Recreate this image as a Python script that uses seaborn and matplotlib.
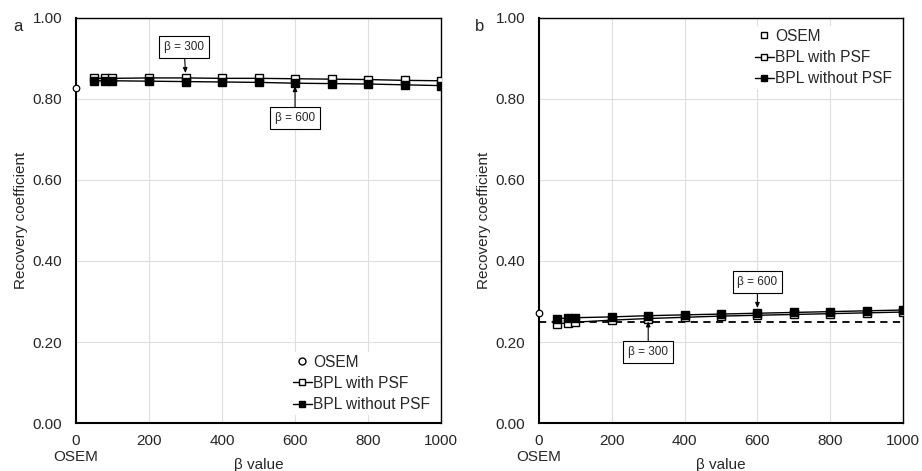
import matplotlib
matplotlib.use("Agg")
import matplotlib.pyplot as plt
from matplotlib.lines import Line2D
import seaborn as sns

beta = [50, 80, 100, 200, 300, 400, 500, 600, 700, 800, 900, 1000]

a_osem = 0.826
a_psf = [0.851, 0.851, 0.851, 0.852, 0.852, 0.851, 0.851, 0.850, 0.849, 0.848, 0.846, 0.845]
a_nopsf = [0.845, 0.845, 0.845, 0.844, 0.843, 0.842, 0.841, 0.839, 0.838, 0.837, 0.835, 0.833]

b_osem = 0.271
b_psf = [0.245, 0.247, 0.249, 0.254, 0.258, 0.261, 0.264, 0.266, 0.268, 0.270, 0.272, 0.274]
b_nopsf = [0.258, 0.259, 0.260, 0.262, 0.265, 0.267, 0.269, 0.271, 0.273, 0.275, 0.277, 0.279]
b_ref = 0.25

x_ticks = [0, 200, 400, 600, 800, 1000]
x_ticklabels = ["0\nOSEM", "200", "400", "600", "800", "1000"]
y_ticks = [0.0, 0.2, 0.4, 0.6, 0.8, 1.0]

sns.set_style("whitegrid", {"grid.color": "#dedede", "axes.edgecolor": "black"})
plt.rcParams["font.family"] = ["Liberation Sans", "DejaVu Sans"]

fig = plt.figure(figsize=(9.22, 4.71), dpi=100)
ax_a = fig.add_axes([0.0824, 0.1019, 0.3960, 0.8599])
ax_b = fig.add_axes([0.5846, 0.1019, 0.3948, 0.8599])


def draw_panel(ax, osem, psf, nopsf):
    sns.lineplot(x=beta, y=psf, ax=ax, color="black", lw=1, marker="s", ms=5.5,
                 markerfacecolor="white", markeredgecolor="black", mew=1, zorder=3)
    sns.lineplot(x=beta, y=nopsf, ax=ax, color="black", lw=1, marker="s", ms=5.5,
                 markerfacecolor="black", markeredgecolor="black", mew=1, zorder=4)
    sns.scatterplot(x=[0], y=[osem], ax=ax, marker="o", s=22, facecolor="white",
                    edgecolor="black", linewidth=0.9, zorder=5, clip_on=False)
    ax.set_xlim(0, 1000)
    ax.set_ylim(0, 1.0)
    ax.set_xticks(x_ticks)
    ax.set_xticklabels(x_ticklabels, fontsize=11)
    ax.set_yticks(y_ticks)
    ax.set_yticklabels([f"{v:.2f}" for v in y_ticks], fontsize=11)
    ax.tick_params(axis="x", length=0, pad=8)
    ax.tick_params(axis="y", length=0, pad=10)
    ax.set_xlabel("β value", fontsize=11)
    ax.xaxis.set_label_coords(0.5, -0.086)
    ax.set_ylabel("Recovery coefficient", fontsize=11, labelpad=3)
    for side in ["left", "bottom"]:
        ax.spines[side].set_linewidth(1.5)
    for side in ["top", "right"]:
        ax.spines[side].set_linewidth(1.0)


def annotate(ax, text, xy, xytext):
    ax.annotate(text, xy=xy, xytext=xytext, fontsize=8.5, ha="center", va="center",
                bbox=dict(boxstyle="square,pad=0.4", fc="white", ec="black", lw=0.8),
                arrowprops=dict(arrowstyle="-|>,head_length=0.35,head_width=0.15",
                                color="black", lw=0.8, shrinkA=0, shrinkB=0),
                zorder=6)


def legend(ax, osem_marker, **kw):
    handles = [
        Line2D([], [], ls="none", marker=osem_marker, ms=5 if osem_marker == "o" else 4.5,
               mfc="white", mec="black"),
        Line2D([], [], color="black", lw=1, marker="s", ms=5, mfc="white", mec="black"),
        Line2D([], [], color="black", lw=1, marker="s", ms=5, mfc="black", mec="black"),
    ]
    leg = ax.legend(handles, ["OSEM", "BPL with PSF", "BPL without PSF"], fontsize=11.2,
                    frameon=True, facecolor="white", edgecolor="none", framealpha=1,
                    handlelength=1.2, handletextpad=0.1, borderpad=0.2,
                    labelspacing=0.4, **kw)
    leg.set_zorder(7)


draw_panel(ax_a, a_osem, a_psf, a_nopsf)
annotate(ax_a, "β = 300", (300, 0.864), (296, 0.928))
annotate(ax_a, "β = 600", (600, 0.832), (600, 0.753))
legend(ax_a, "o", loc="lower right", bbox_to_anchor=(1.0, 0.0))
fig.text(0.0195, 0.943, "a", fontsize=12, ha="center", va="center")

draw_panel(ax_b, b_osem, b_psf, b_nopsf)
ax_b.plot([0, 1000], [b_ref, b_ref], color="black", ls=(0, (4, 3)), lw=1.3, zorder=2)
annotate(ax_b, "β = 600", (600, 0.284), (600, 0.348))
annotate(ax_b, "β = 300", (300, 0.251), (300, 0.175))
legend(ax_b, "s", loc="upper right", bbox_to_anchor=(1.0, 1.0))
fig.text(0.5206, 0.943, "b", fontsize=12, ha="center", va="center")

fig.savefig("out.png", dpi=100)
